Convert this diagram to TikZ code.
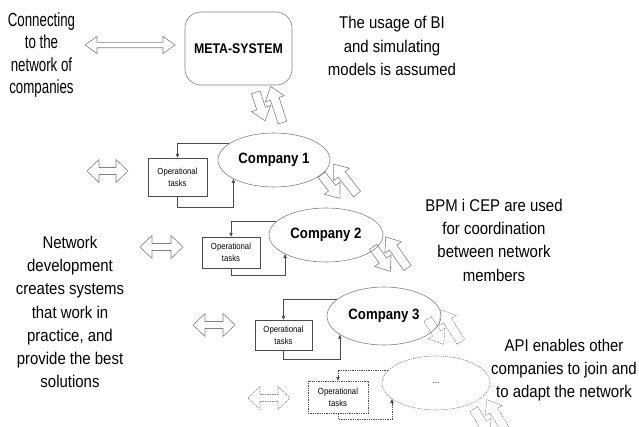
\documentclass[tikz,border=0pt]{standalone}
\usepackage{fontspec}
\setmainfont{Liberation Sans}[FakeStretch=0.88]
\newfontfamily\narrowsans{Liberation Sans}[FakeStretch=0.7]
\usetikzlibrary{arrows.meta,shapes.geometric}

\tikzset{
  txt/.style={align=center, font=\fontsize{17}{23.3}\selectfont},
  blockline/.style={draw=gray, line width=0.6pt, line join=miter},
  dotline/.style={dash pattern=on 1.3pt off 1pt},
  company/.style={ellipse, draw=gray, line width=0.6pt, inner sep=0pt,
    font=\fontsize{15}{18}\selectfont\bfseries},
  taskbox/.style={draw=black!70, line width=0.5pt, align=center, inner sep=1pt,
    font=\fontsize{8.8}{12}\selectfont},
  feedback/.style={draw=black!70, line width=0.5pt,
    -{Triangle[length=4pt,width=3.5pt]}},
  % horizontal double-headed block arrow: half length, head half width, shaft half width, line style
  pics/dblarrow/.style n args={4}{code={
    \draw[blockline,#4] (-#1,0) -- (-#1+12,-#2) -- (-#1+12,-#3) -- (#1-12,-#3)
      -- (#1-12,-#2) -- (#1,0) -- (#1-12,#2) -- (#1-12,#3) -- (-#1+12,#3)
      -- (-#1+12,#2) -- cycle;
  }},
  % pair of opposed block arrows between two levels
  pics/swap/.style={code={
    \draw[blockline,#1] (-19,3.5) -- (6,3.5) -- (6,-2) -- (19,8) -- (6,18)
      -- (6,12.5) -- (-19,12.5) -- cycle;
    \draw[blockline,#1] (18,-3.5) -- (1,-3.5) -- (1,2) -- (-12,-8) -- (1,-18)
      -- (1,-12.5) -- (18,-12.5) -- cycle;
  }},
}

\begin{document}
\begin{tikzpicture}[x=1pt,y=-1pt]
\useasboundingbox (0,0) rectangle (639,426);

% meta level
\node[draw=gray, line width=0.6pt, rounded corners=16pt, minimum width=107pt,
  minimum height=73pt, font=\fontsize{14}{17}\selectfont\bfseries]
  (meta) at (238.5,48.5) {META-SYSTEM};

% side texts
\node[align=center, font=\narrowsans\fontsize{19}{22.3}\selectfont] (conn) at (41.5,55)
  {Connecting\\to the\\network of\\companies};
\node[txt] (usage) at (392,46) {The usage of BI\\and simulating\\models is assumed};
\node[txt] (netdev) at (70,312) {Network\\development\\creates systems\\that work in\\practice, and\\provide the best\\solutions};
\node[txt] (bpm) at (494,240) {BPM i CEP are used\\for coordination\\between network\\members};
\node[txt] (api) at (564,370) {API enables other\\companies to join and\\to adapt the network};

% companies
\node[company, minimum width=112pt, minimum height=54pt] (c1) at (274,160) {Company 1};
\node[company, minimum width=114pt, minimum height=54pt] (c2) at (326,235) {Company 2};
\node[company, minimum width=114pt, minimum height=58pt] (c3) at (384,316) {Company 3};
\node[company, dotline, minimum width=108pt, minimum height=54pt,
  font=\fontsize{9}{11}\selectfont] (c4) at (436,383) {...};

% operational tasks
\node[taskbox, minimum width=59pt, minimum height=38pt] (t1) at (177.5,177) {Operational\\tasks};
\node[taskbox, minimum width=58pt, minimum height=31pt] (t2) at (231,252.5) {Operational\\tasks};
\node[taskbox, minimum width=57pt, minimum height=30pt] (t3) at (283.5,335) {Operational\\tasks};
\node[taskbox, dotline, minimum width=60pt, minimum height=32pt] (t4) at (338,397) {Operational\\tasks};

% feedback loops
\draw[feedback] (c1.160) -| (t1.north);
\draw[feedback] (t1.south) -- ++(0,11) -| (c1.205);
\draw[feedback] (c2.165) -| (t2.north);
\draw[feedback] (t2.south) -- ++(0,7) -| (c2.205);
\draw[feedback] (c3.160) -| (t3.north);
\draw[feedback] (t3.south) -- ++(0,9) -| (c3.203);
\draw[feedback, dotline] (c4.165) -| (t4.north);
\draw[feedback, dotline] (t4.south) -- ++(0,6) -| (c4.200);

% horizontal block arrows
\pic at (130,45) {dblarrow={45}{8.5}{2.7}{solid}};
\pic at (107.5,171) {dblarrow={20.5}{11.5}{3.5}{solid}};
\pic at (161.5,247) {dblarrow={21.5}{11.5}{3.5}{solid}};
\pic at (214,325) {dblarrow={21}{11.5}{3.5}{solid}};
\pic at (269,398) {dblarrow={21}{11.5}{3.5}{dotline}};

% arrows between levels
\pic[rotate=108] at (269,107) {swap=solid};
\pic[rotate=128] at (339,184) {swap=solid};
\pic[rotate=125] at (390,257) {swap=solid};
\pic[rotate=122] at (444,330) {swap=dotline};
\pic[rotate=122] at (490,420) {swap=dotline};
\end{tikzpicture}
\end{document}
